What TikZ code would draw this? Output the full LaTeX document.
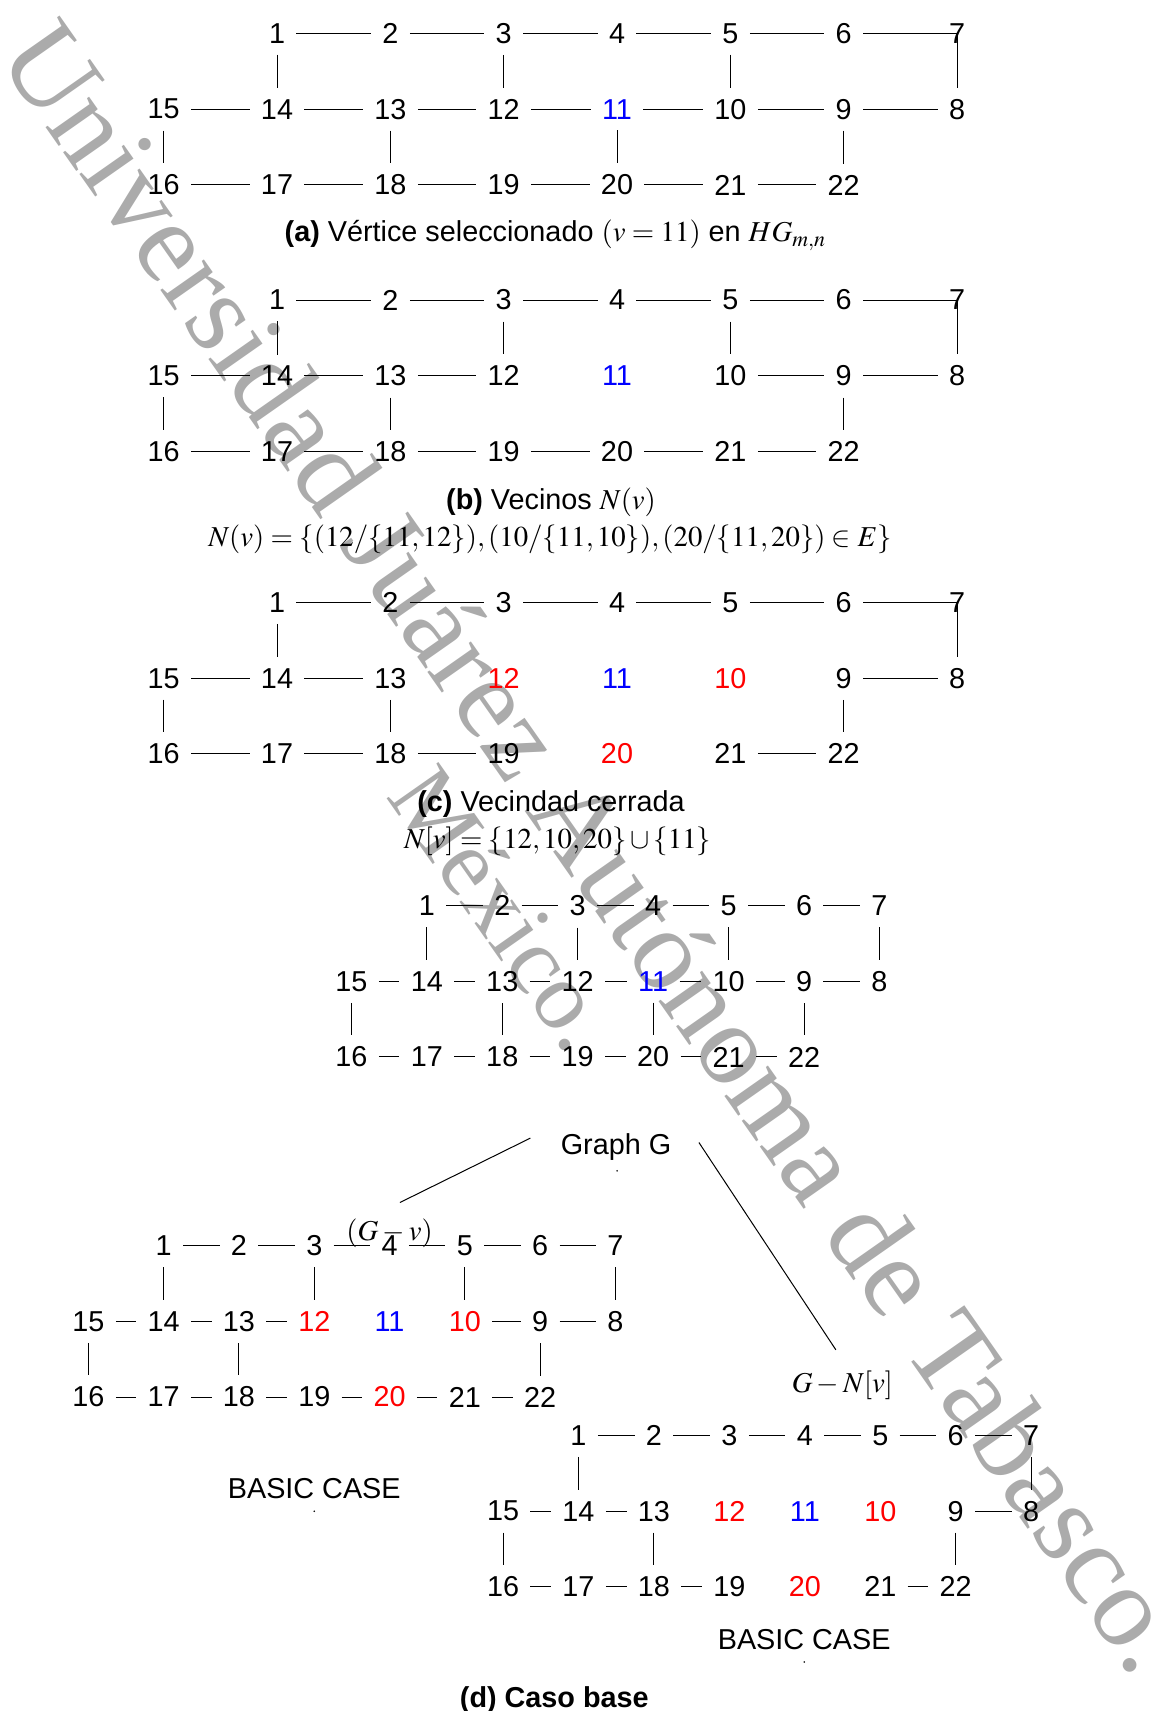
\documentclass[tikz,border=0pt]{standalone}
\usepackage{mathptmx}
\usepackage[no-math]{fontspec}
\setmainfont{Liberation Sans}
\newfontfamily\wmfont{Liberation Serif}
\definecolor{wmgray}{RGB}{171,171,171}
\tikzset{
  vtx/.style={inner sep=5.5pt, font=\fontsize{14.4}{17}\selectfont},
  edg/.style={line width=0.5pt, draw=black},
  lbl/.style={inner sep=0pt, font=\fontsize{14.4}{17}\selectfont, anchor=base},
  wm/.style={inner sep=0pt, text=wmgray, rotate=-54.98},
}
% #1 prefix, #2 x of column 0, #3 y of top row, #4 column spacing, #5 row gap,
% #6 colour of 12, #7 colour of 11, #8 colour of 10, #9 colour of 20
\newcommand\placegraph[9]{%
  \foreach \k in {1,...,7} {\node[vtx] (#1\k) at ({#2+\k*#4},{#3}) {\k};}
  \foreach \c in {0,...,7} {%
    \pgfmathtruncatemacro\n{15-\c}%
    \def\tc{black}%
    \ifnum\n=12 \def\tc{#6}\fi
    \ifnum\n=11 \def\tc{#7}\fi
    \ifnum\n=10 \def\tc{#8}\fi
    \node[vtx,text=\tc] (#1\n) at ({#2+\c*#4},{#3+#5}) {\n};}
  \foreach \c in {0,...,6} {%
    \pgfmathtruncatemacro\n{16+\c}%
    \def\tc{black}%
    \ifnum\n=20 \def\tc{#9}\fi
    \node[vtx,text=\tc] (#1\n) at ({#2+\c*#4},{#3+2*#5}) {\n};}
}
\newcommand\drawedges[2]{\foreach \u/\v in {#2} {\draw[edg] (#1\u) -- (#1\v);}}
\begin{document}
\begin{tikzpicture}[x=0.54565pt,y=-0.54565pt]
\useasboundingbox (0,0) rectangle (1062,1568);
% watermark
\begin{scope}
\clip (0,0) rectangle (1062,1568);
\node[wm, anchor=base west, font=\wmfont\fontsize{57.9}{60}\selectfont] (wmark) at (-3,52) {Universidad Juárez Autónoma de Tabasco.};
\node[wm, anchor=center, font=\wmfont\fontsize{48.3}{50}\selectfont] (wmark2) at (462,832) {México.};
\end{scope}

% (a)
\placegraph{a}{150}{30.5}{103.86}{69.5}{black}{blue}{black}{black}
\drawedges{a}{1/2,2/3,3/4,4/5,5/6,15/14,14/13,13/12,12/11,11/10,10/9,9/8,16/17,17/18,18/19,19/20,20/21,21/22,1/14,3/12,5/10,15/16,13/18,11/20,9/22}
\draw[edg] (a6) -| (a8);
\node[lbl] (capA) at (509,221.5) {{\bfseries (a)} Vértice seleccionado $(v=11)$ en $HG_{m,n}$};

% (b)
\placegraph{b}{150}{275}{103.86}{69.5}{black}{blue}{black}{black}
\drawedges{b}{1/2,2/3,3/4,4/5,5/6,15/14,14/13,13/12,10/9,9/8,16/17,17/18,18/19,19/20,20/21,21/22,1/14,3/12,5/10,15/16,13/18,9/22}
\draw[edg] (b6) -| (b8);
\node[lbl] (capB) at (505,466.5) {{\bfseries (b)} Vecinos $N(v)$};
\node[lbl] (forB) at (504,500.5) {$N(v)=\{(12/\{11,12\}),(10/\{11,10\}),(20/\{11,20\})\in E\}$};

% (c)
\placegraph{c}{150}{552.3}{103.86}{69.3}{red}{blue}{red}{red}
\drawedges{c}{1/2,2/3,3/4,4/5,5/6,15/14,14/13,9/8,16/17,17/18,18/19,21/22,1/14,15/16,13/18,9/22}
\draw[edg] (c6) -| (c8);
\node[lbl] (capC) at (505,744) {{\bfseries (c)} Vecindad cerrada};
\node[lbl] (forC) at (511,778) {$N[v]=\{12,10,20\}\cup\{11\}$};

% (d) graph G
\placegraph{g}{322}{830.2}{69.14}{69.2}{black}{blue}{black}{black}
\drawedges{g}{1/2,2/3,3/4,4/5,5/6,6/7,15/14,14/13,13/12,12/11,11/10,10/9,9/8,16/17,17/18,18/19,19/20,20/21,21/22,1/14,3/12,5/10,7/8,15/16,13/18,11/20,9/22}
\node[lbl] (root) at (564.5,1058) {Graph G};
\coordinate (rootdot) at (565.5,1073);
\fill (rootdot) circle[radius=0.8];

% (d) left: G - v
\placegraph{l}{81}{1141.7}{69}{69.3}{red}{blue}{red}{red}
\drawedges{l}{1/2,2/3,3/4,4/5,5/6,6/7,15/14,14/13,13/12,10/9,9/8,16/17,17/18,18/19,19/20,20/21,21/22,1/14,3/12,5/10,7/8,15/16,13/18,9/22}
\node[lbl] (labL) at (357,1136.5) {$(G-v)$};
\node[lbl] (basL) at (288,1373.5) {BASIC CASE};
\coordinate (basLdot) at (288,1385);
\fill (basLdot) circle[radius=0.8];

% (d) right: G - N[v]
\placegraph{r}{461}{1315.5}{69.14}{69.3}{red}{blue}{red}{red}
\drawedges{r}{1/2,2/3,3/4,4/5,5/6,6/7,15/14,14/13,9/8,16/17,17/18,18/19,21/22,1/14,7/8,15/16,13/18,9/22}
\node[lbl] (labR) at (772,1276.5) {$G-N[v]$};
\node[lbl] (basR) at (737,1512) {BASIC CASE};
\coordinate (basRdot) at (737,1523);
\fill (basRdot) circle[radius=0.8];

% tree connectors
\coordinate (rootL) at (486,1043);
\coordinate (childL) at (366.5,1102);
\coordinate (rootR) at (640.5,1047);
\coordinate (childR) at (766,1237);
\draw[edg] (rootL) -- (childL);
\draw[edg] (rootR) -- (childR);

\node[lbl] (capD) at (508,1565) {{\bfseries (d) Caso base}};
\end{tikzpicture}
\end{document}
